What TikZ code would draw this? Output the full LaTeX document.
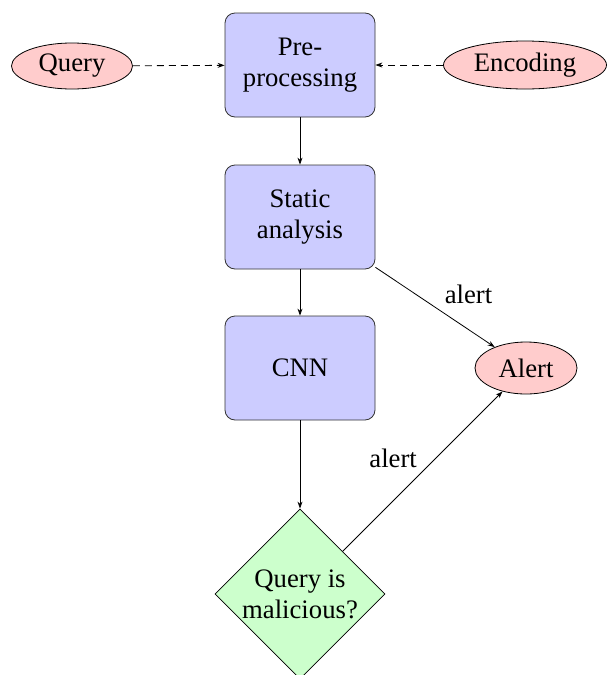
\documentclass[tikz,border=0pt]{standalone}
\usepackage{fontspec}
\setmainfont{Liberation Serif}
\usetikzlibrary{shapes.geometric,arrows.meta}
\begin{document}
\begin{tikzpicture}[x=1pt,y=-1pt,
  font=\fontsize{26.7}{31}\selectfont,
  every path/.style={line width=0.8pt},
  procbox/.style={draw=black!80, fill=blue!20, rounded corners=10pt, minimum width=150pt, minimum height=104pt, align=center, inner sep=2pt},
  termnode/.style={draw=black, fill=red!20, ellipse, inner sep=0pt},
  decide/.style={draw=black, fill=green!20, diamond, minimum width=170pt, minimum height=170pt, inner sep=0pt, align=center},
  arr/.style={-{Stealth[length=7pt,width=5pt]}},
  lbl/.style={font=\fontsize{26.7}{31}\selectfont}
]
\useasboundingbox (0,0) rectangle (610,675);
\node[procbox] (pre) at (300,65) {Pre-\\processing};
\node[procbox] (sa) at (300,217) {Static\\analysis};
\node[procbox] (cnn) at (300,368) {CNN};
\node[decide] (dec) at (300,594) {Query is\\malicious?};
\node[termnode, minimum width=121pt, minimum height=46pt] (q) at (72,66) {Query};
\node[termnode, minimum width=163pt, minimum height=48pt] (enc) at (525,65) {Encoding};
\node[termnode, minimum width=102pt, minimum height=52pt] (al) at (526,368) {Alert};
\draw[arr, dashed, dash pattern=on 7pt off 5pt] (q) -- (pre);
\draw[arr, dashed, dash pattern=on 7pt off 5pt] (enc) -- (pre);
\draw[arr] (pre) -- (sa);
\draw[arr] (sa) -- (cnn);
\draw[arr] (cnn) -- (dec);
\draw[arr] (sa) -- node[midway, above right, xshift=6pt, lbl] {alert} (al);
\draw[arr] (dec) -- node[midway, above left, xshift=-2pt, lbl] {alert} (al);
\end{tikzpicture}
\end{document}
